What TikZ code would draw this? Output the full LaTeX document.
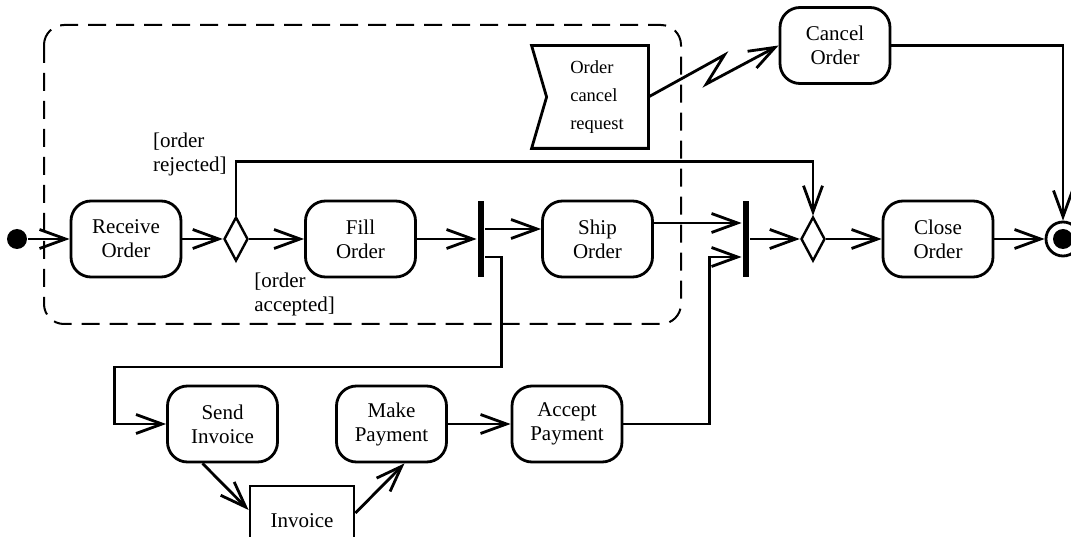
\documentclass[tikz,border=0pt]{standalone}
\usepackage{fontspec}
\setmainfont{Liberation Serif}
\usetikzlibrary{arrows.meta,positioning,shapes.geometric,calc}

\begin{document}
\begin{tikzpicture}[
  x=1pt, y=-1pt, line width=2.8pt,
  font=\fontsize{21}{24}\selectfont,
  act/.style={draw, rounded corners=20pt, align=center, minimum width=110pt, minimum height=76pt, inner sep=2pt},
  obj/.style={draw, align=center, minimum width=104pt, minimum height=70pt},
  dec/.style={draw, diamond, minimum width=24pt, minimum height=44pt, inner sep=0pt, line width=2.4pt},
  bar/.style={fill, minimum width=6pt, minimum height=76pt, inner sep=0pt},
  initial/.style={circle, fill, minimum size=20pt, inner sep=0pt},
  final/.style={circle, draw, minimum size=34pt, inner sep=0pt,
    path picture={\fill (path picture bounding box.center) circle (10pt);}},
  signal/.style={align=left, minimum width=100pt, minimum height=100pt, inner sep=0pt, font=\fontsize{18.5}{28}\selectfont},
  guard/.style={align=left, inner sep=0pt},
  arr/.style={-{Straight Barb[length=26pt, width=19pt]}},
  region/.style={dash pattern=on 18pt off 10pt, line width=2pt, rounded corners=20pt}
]
\useasboundingbox (0,0) rectangle (1071,537);
% interruptible region
\draw[region] (44,25) rectangle (681,324);
% main flow
\node[initial] (init) at (17,239) {};
\node[act] (rec) at (126,239) {Receive\\Order};
\node[dec] (dec1) at (236,239) {};
\node[act] (fillord) at (360.5,239) {Fill\\Order};
\node[bar] (fork) at (481,239) {};
\node[act] (ship) at (597.5,239) {Ship\\Order};
\node[bar] (join) at (746,239) {};
\node[dec] (dec2) at (813,239) {};
\node[act] (close) at (938,239) {Close\\Order};
\node[final] (final) at (1063,239) {};
\node[act] (cancel) at (835,45.5) {Cancel\\Order};
% invoice branch
\node[act] (send) at (222.5,424) {Send\\Invoice};
\node[act] (make) at (391.5,424) {Make\\Payment};
\node[act] (accept) at (567,424) {Accept\\Payment};
\node[obj] (invoice) at (302,521) {Invoice};
% accept event
\node[signal] (sig) at (597,97) {Order\\cancel\\request};
\draw (sig.north east) -- (sig.south east) -- ([xshift=-14pt]sig.south west)
  -- ([xshift=1pt]sig.west) -- ([xshift=-14pt]sig.north west) -- cycle;
% guards
\node[guard, above left=38pt and 8pt of dec1.north] (rej) {[order\\rejected]};
\node[guard, below right=9pt and 17pt of dec1.south] (acc) {[order\\accepted]};
% connectors
\draw[arr] (init) -- (rec);
\draw[arr] (rec) -- (dec1);
\draw[arr] (dec1) -- (fillord);
\draw[arr] (dec1.north) -- ++(0,-54) -| (dec2.north);
\draw[arr] (fillord) -- (fillord -| fork.west);
\draw[arr] ([yshift=10pt]fork.east) -- ([yshift=10pt]fork.east -| ship.west);
\draw[arr] ([yshift=-18pt]fork.east) -- ++(16,0) -- ++(0,110) -| ([xshift=-52pt]send.west) -- (send.west);
\draw[arr] ([yshift=16pt]ship.east) -- ([yshift=16pt]ship.east -| join.west);
\draw[arr] (accept.east) -| ([xshift=-32pt,yshift=-18pt]join.west) -- ([yshift=-18pt]join.west);
\draw[arr] (join) -- (dec2);
\draw[arr] (dec2) -- (close);
\draw[arr] (close) -- (final);
\draw[arr] (cancel.east) -| (final.north);
\draw[arr] (sig.east) -- ++(76,-42) -- ++(-18,29) -- (cancel.west);
\draw[arr] ([xshift=-20pt]send.south) -- ([yshift=11pt]invoice.west);
\draw[arr] ([yshift=8pt]invoice.east) -- ([xshift=13pt]make.south);
\draw[arr] (make) -- (accept);
\end{tikzpicture}
\end{document}
